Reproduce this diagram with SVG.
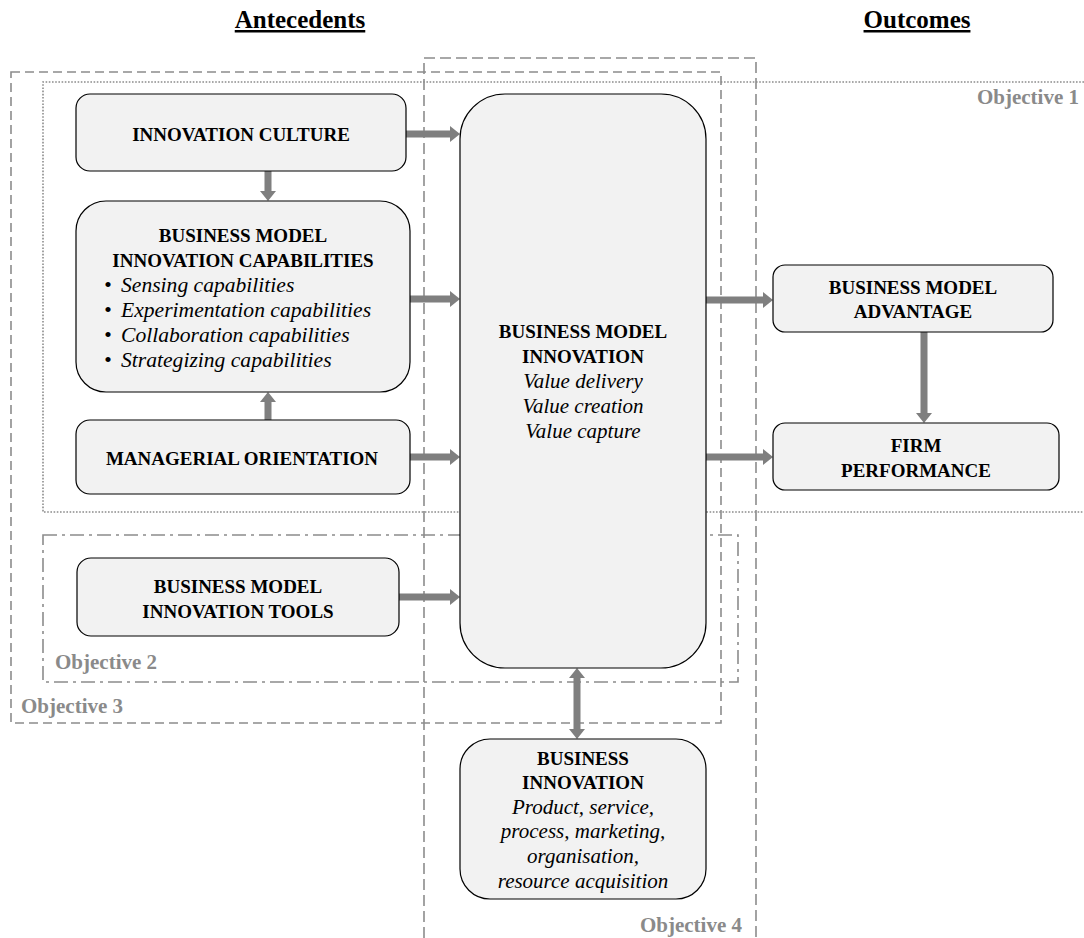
<svg xmlns="http://www.w3.org/2000/svg" width="1084" height="938" viewBox="0 0 1084 938">
  <style>
    .box { fill: #f2f2f2; stroke: #000; stroke-width: 1.2; }
    .b { font-family: "Liberation Serif", "Times New Roman", serif; font-weight: bold; font-size: 19px; fill: #000; text-anchor: middle; }
    .i { font-family: "Liberation Serif", "Times New Roman", serif; font-style: italic; font-size: 21px; fill: #000; text-anchor: middle; }
    .il { font-family: "Liberation Serif", "Times New Roman", serif; font-style: italic; font-size: 21.6px; fill: #000; }
    .title { font-family: "Liberation Serif", "Times New Roman", serif; font-weight: bold; font-size: 25px; fill: #000; text-anchor: middle; text-decoration: underline; }
    .obj { font-family: "Liberation Serif", "Times New Roman", serif; font-weight: bold; font-size: 21px; fill: #8a8a8a; }
    .frame { fill: none; stroke: #8c8c8c; stroke-width: 1.6; }
    .arr { fill: #7f7f7f; stroke: none; }
  </style>

  <!-- column headings -->
  <g id="headings">
    <text class="title" x="300" y="28">Antecedents</text>
    <text class="title" x="917" y="28">Outcomes</text>
  </g>

  <!-- objective frames -->
  <g id="objectives">
    <rect id="obj3-frame" class="frame" x="11" y="72" width="710" height="651" stroke-dasharray="9 5"/>
    <path id="obj4-frame" class="frame" d="M424,938 V58 H756 V938" stroke-dasharray="11 5"/>
    <path id="obj1-frame" class="frame" d="M1084,82 H43 V512 H1084" stroke-width="2" stroke-dasharray="1.6 1.6"/>
    <rect id="obj2-frame" class="frame" x="43" y="535" width="695" height="147" stroke-dasharray="14 5 3 5"/>
    <text class="obj" x="1079" y="104" text-anchor="end">Objective 1</text>
    <text class="obj" x="55" y="669">Objective 2</text>
    <text class="obj" x="21" y="713">Objective 3</text>
    <text class="obj" x="742" y="932" text-anchor="end">Objective 4</text>
  </g>

  <!-- connectors -->
  <g id="connectors">
    <polygon class="arr" points="406,130.5 450,130.5 450,126 460,134 450,142 450,137.5 406,137.5"/>
    <polygon class="arr" points="410,295.5 450,295.5 450,291 460,299 450,307 450,302.5 410,302.5"/>
    <polygon class="arr" points="410,453.5 450,453.5 450,449 460,457 450,465 450,460.5 410,460.5"/>
    <polygon class="arr" points="399,593.5 450,593.5 450,589 460,597 450,605 450,600.5 399,600.5"/>
    <polygon class="arr" points="706,296.5 763,296.5 763,292 773,300 763,308 763,303.5 706,303.5"/>
    <polygon class="arr" points="706,453.5 763,453.5 763,449 773,457 763,465 763,460.5 706,460.5"/>
    <polygon class="arr" points="264.5,171 264.5,191 260,191 268,201 276,191 271.5,191 271.5,171"/>
    <polygon class="arr" points="264.5,420 264.5,402 260,402 268,392 276,402 271.5,402 271.5,420"/>
    <polygon class="arr" points="920.5,332 920.5,413 916,413 924,423 932,413 927.5,413 927.5,332"/>
    <polygon class="arr" points="577,668 585,678 580.5,678 580.5,729 585,729 577,739 569,729 573.5,729 573.5,678 569,678"/>
  </g>

  <!-- nodes -->
  <g id="innovation-culture">
    <rect class="box" x="76" y="94" width="330" height="77" rx="14"/>
    <text class="b" x="241" y="141">INNOVATION CULTURE</text>
  </g>

  <g id="bmi-capabilities">
    <rect class="box" x="76" y="201" width="334" height="191" rx="30"/>
    <text class="b" x="243" y="242">BUSINESS MODEL</text>
    <text class="b" x="243" y="267">INNOVATION CAPABILITIES</text>
    <text class="il" x="104" y="292">•</text>
    <text class="il" x="121" y="292">Sensing capabilities</text>
    <text class="il" x="104" y="317">•</text>
    <text class="il" x="121" y="317">Experimentation capabilities</text>
    <text class="il" x="104" y="342">•</text>
    <text class="il" x="121" y="342">Collaboration capabilities</text>
    <text class="il" x="104" y="367">•</text>
    <text class="il" x="121" y="367">Strategizing capabilities</text>
  </g>

  <g id="managerial-orientation">
    <rect class="box" x="76" y="420" width="334" height="74" rx="14"/>
    <text class="b" x="242" y="465">MANAGERIAL ORIENTATION</text>
  </g>

  <g id="bmi-tools">
    <rect class="box" x="77" y="558" width="322" height="78" rx="14"/>
    <text class="b" x="238" y="593">BUSINESS MODEL</text>
    <text class="b" x="238" y="618">INNOVATION TOOLS</text>
  </g>

  <g id="business-model-innovation">
    <rect class="box" x="460" y="94" width="246" height="574" rx="45"/>
    <text class="b" x="583" y="338">BUSINESS MODEL</text>
    <text class="b" x="583" y="363">INNOVATION</text>
    <text class="i" x="583" y="388">Value delivery</text>
    <text class="i" x="583" y="413">Value creation</text>
    <text class="i" x="583" y="438">Value capture</text>
  </g>

  <g id="bm-advantage">
    <rect class="box" x="773" y="265" width="280" height="67" rx="12"/>
    <text class="b" x="913" y="294">BUSINESS MODEL</text>
    <text class="b" x="913" y="318">ADVANTAGE</text>
  </g>

  <g id="firm-performance">
    <rect class="box" x="773" y="423" width="286" height="67" rx="12"/>
    <text class="b" x="916" y="452">FIRM</text>
    <text class="b" x="916" y="477">PERFORMANCE</text>
  </g>

  <g id="business-innovation">
    <rect class="box" x="460" y="739" width="246" height="160" rx="30"/>
    <text class="b" x="583" y="765">BUSINESS</text>
    <text class="b" x="583" y="789">INNOVATION</text>
    <text class="i" x="583" y="814">Product, service,</text>
    <text class="i" x="583" y="838">process, marketing,</text>
    <text class="i" x="583" y="863">organisation,</text>
    <text class="i" x="583" y="888">resource acquisition</text>
  </g>
</svg>
